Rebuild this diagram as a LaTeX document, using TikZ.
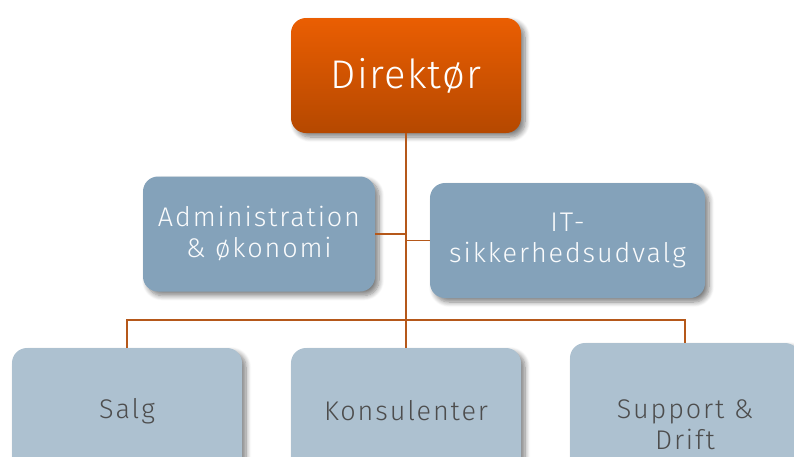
\documentclass[tikz,border=0pt]{standalone}
\usepackage{fontspec}
\setmainfont{Fira Sans Light}[LetterSpace=7]
\usetikzlibrary{shadows.blur}
\definecolor{topA}{HTML}{EA5E02}
\definecolor{topB}{HTML}{B54800}
\definecolor{midbox}{HTML}{84A2BA}
\definecolor{lowbox}{HTML}{ADC1D0}
\definecolor{lowtext}{HTML}{4D4D4D}
\definecolor{wire}{HTML}{B5581A}
\tikzset{
  boxbase/.style={rounded corners=15pt, inner sep=0pt, align=center,
    blur shadow={shadow xshift=4pt, shadow yshift=-4pt, shadow blur radius=5pt, shadow blur steps=8, shadow opacity=50}},
  chief/.style={boxbase, top color=topA, bottom color=topB, text=white,
    minimum width=230pt, minimum height=115pt, font=\addfontfeatures{LetterSpace=3}\fontsize{40}{44}\selectfont},
  staff/.style={boxbase, fill=midbox, text=white!96!midbox,
    minimum height=115pt, font=\fontsize{27}{31}\selectfont},
  unit/.style={boxbase, fill=lowbox, text=lowtext,
    minimum width=230pt, font=\fontsize{27}{31}\selectfont},
  wireline/.style={draw=wire, line width=1.9pt}
}
\begin{document}
\begin{tikzpicture}[x=1pt,y=-1pt]
\useasboundingbox (0,0) rectangle (794,456);
\clip (0,0) rectangle (794,456);
\node[chief] (dir) at (406,75.5) {Direktør};
\node[staff, minimum width=232pt] (adm) at (259,234) {Administration\\\& økonomi};
\node[staff, minimum width=275pt] (it) at (567.5,240.5) {IT-\\sikkerhedsudvalg};
\node[unit, minimum height=126pt] (salg) at (127,411) {Salg};
\node[unit, minimum height=126pt] (kons) at (406,411) {Konsulenter};
\node[unit, minimum height=164pt] (sup) at (685,425) {Support \&\\Drift};
\coordinate (bus) at (406,320);
\draw[wireline] (dir.south) -- (bus);
\draw[wireline] (adm.east) -- (adm.east -| dir.south);
\draw[wireline] (it.west) -- (it.west -| dir.south);
\draw[wireline] (salg.north) |- (bus) -| (sup.north);
\draw[wireline] (kons.north) -- (bus);
\end{tikzpicture}
\end{document}
